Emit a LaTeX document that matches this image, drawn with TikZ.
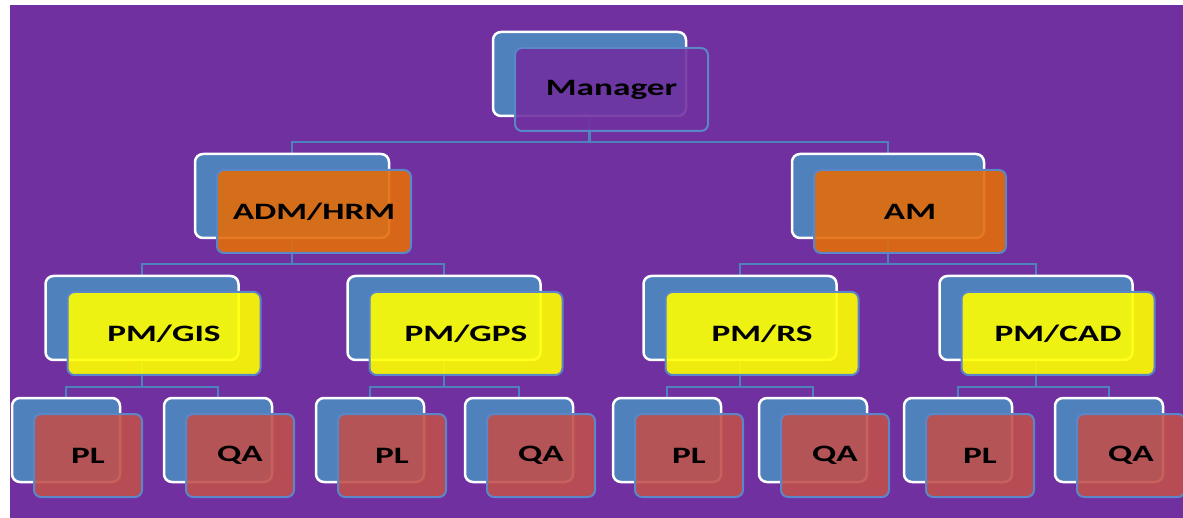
\documentclass[tikz,border=0pt]{standalone}
\usepackage{fontspec}
\usepackage{graphicx}
\setmainfont{Carlito}
\definecolor{bgpurple}{HTML}{7030A0}
\definecolor{backblue}{HTML}{4F81BD}
\definecolor{edgeblue}{HTML}{5B86C8}
\definecolor{mgrfill}{HTML}{7030A0}
\definecolor{orgfill}{HTML}{E36C0A}
\definecolor{yelfill}{HTML}{FFFF00}
\definecolor{redfill}{HTML}{C0504D}
\newcommand{\lbl}[1]{\scalebox{1.5}[1]{\fontsize{23.5}{27}\selectfont\bfseries #1}}
\pgfdeclarelayer{bg}
\pgfsetlayers{bg,main}
\newcommand{\orgpair}[6]{%
  \node[backbox, minimum width=#4] (#1B) at (#2,#3) {};
  \node[frontbox, minimum width=#4, fill=#5] (#1) at ([shift={(22,14)}]#1B.center) {\lbl{#6}};
}
\begin{document}
\begin{tikzpicture}[x=1pt,y=-1pt,
  backbox/.style={rectangle, rounded corners=8pt, fill=backblue, draw=white, line width=2.5pt, minimum height=84pt, inner sep=0pt},
  frontbox/.style={rectangle, rounded corners=7pt, draw=edgeblue, line width=2pt, fill opacity=0.9, text opacity=1, draw opacity=1, minimum height=83pt, inner sep=0pt, text=black, yshift=-1.5pt},
  conn/.style={draw=backblue, line width=2.5pt}]
\useasboundingbox (0,0) rectangle (1183,518);
% level 1
\orgpair{mgr}{589.5}{74}{193pt}{mgrfill}{Manager}
% level 2
\orgpair{adm}{292}{196}{194pt}{orgfill}{ADM/HRM}
\orgpair{am}{888}{196}{192pt}{orgfill}{AM}
% level 3
\orgpair{gis}{142}{318}{193pt}{yelfill}{PM/GIS}
\orgpair{gps}{444}{318}{193pt}{yelfill}{PM/GPS}
\orgpair{rs}{740}{318}{193pt}{yelfill}{PM/RS}
\orgpair{cad}{1036}{318}{193pt}{yelfill}{PM/CAD}
% level 4
\orgpair{plA}{66}{440}{108pt}{redfill}{PL}
\orgpair{qaA}{218}{440}{108pt}{redfill}{QA}
\orgpair{plB}{370}{440}{108pt}{redfill}{PL}
\orgpair{qaB}{519}{440}{108pt}{redfill}{QA}
\orgpair{plC}{667}{440}{108pt}{redfill}{PL}
\orgpair{qaC}{813}{440}{108pt}{redfill}{QA}
\orgpair{plD}{958}{440}{108pt}{redfill}{PL}
\orgpair{qaD}{1109}{440}{108pt}{redfill}{QA}
\begin{pgfonlayer}{bg}
\fill[white] (0,0) rectangle (1183,518);
\fill[bgpurple] (10,5) rectangle (1183,518);
\draw[conn] (mgrB.center) -- ++(0,68) -| (admB.center);
\draw[conn] (mgrB.center) -- ++(0,68) -| (amB.center);
\draw[conn] (admB.center) -- ++(0,68) -| (gisB.center);
\draw[conn] (admB.center) -- ++(0,68) -| (gpsB.center);
\draw[conn] (amB.center) -- ++(0,68) -| (rsB.center);
\draw[conn] (amB.center) -- ++(0,68) -| (cadB.center);
\draw[conn] (gisB.center) -- ++(0,69) -| (plAB.center);
\draw[conn] (gisB.center) -- ++(0,69) -| (qaAB.center);
\draw[conn] (gpsB.center) -- ++(0,69) -| (plBB.center);
\draw[conn] (gpsB.center) -- ++(0,69) -| (qaBB.center);
\draw[conn] (rsB.center) -- ++(0,69) -| (plCB.center);
\draw[conn] (rsB.center) -- ++(0,69) -| (qaCB.center);
\draw[conn] (cadB.center) -- ++(0,69) -| (plDB.center);
\draw[conn] (cadB.center) -- ++(0,69) -| (qaDB.center);
\end{pgfonlayer}
\end{tikzpicture}
\end{document}
